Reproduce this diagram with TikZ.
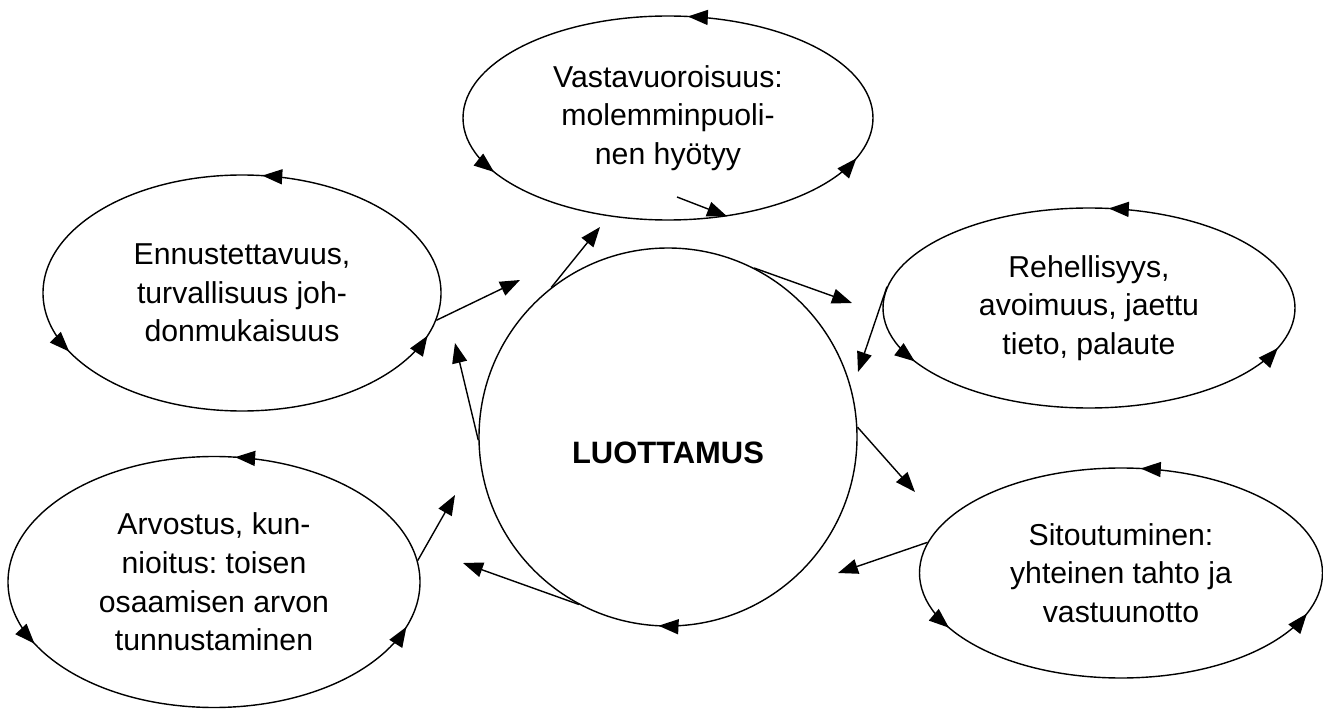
\documentclass[tikz,border=0pt]{standalone}
\usepackage{fontspec}
\setmainfont{Liberation Sans}
\usepackage{tikz}
\usetikzlibrary{positioning,shapes.geometric,arrows.meta,decorations.markings}
\frenchspacing

\begin{document}
\begin{tikzpicture}[line width=0.8pt,
    link/.style={-{Triangle[length=4mm,width=3mm]}},
    bubble/.style={ellipse, draw, inner sep=1pt, align=center,
        font=\fontsize{17.2}{22}\selectfont,
        postaction={decorate, decoration={markings,
            mark=at position 0.23 with {\arrow{Triangle[length=4mm,width=3mm]}},
            mark=at position 0.565 with {\arrow{Triangle[length=4mm,width=3mm]}},
            mark=at position 0.955 with {\arrow{Triangle[length=4mm,width=3mm]}}}}}]

\useasboundingbox (0,0) rectangle (26.46,14.22);

% Centre
\node[circle, draw, minimum size=7.56cm, inner sep=0pt,
    label={[yshift=-0.32cm, font=\fontsize{17.6}{22}\selectfont\bfseries]center:LUOTTAMUS},
    postaction={decorate, decoration={markings,
        mark=at position 0.742 with {\arrowreversed{Triangle[length=4mm,width=3mm]}}}}]
    (luot) at (13.36, 5.48) {};

% Surrounding ellipses
\node[bubble, minimum width=8.2cm, minimum height=4.08cm] (vast) at (13.36, 11.86)
    {Vastavuoroisuus:\\molemminpuoli-\\nen hyötyy};
\node[bubble, minimum width=7.96cm, minimum height=4.72cm] (ennu) at (4.84, 8.36)
    {Ennustettavuus,\\turvallisuus joh-\\donmukaisuus};
\node[bubble, minimum width=8.24cm, minimum height=5.02cm] (arvo) at (4.28, 2.58)
    {Arvostus, kun-\\nioitus: toisen\\osaamisen arvon\\tunnustaminen};
\node[bubble, minimum width=8.24cm, minimum height=4.0cm] (rehe) at (21.78, 8.06)
    {Rehellisyys,\\avoimuus, jaettu\\tieto, palaute};
\node[bubble, minimum width=8.06cm, minimum height=4.2cm] (sito) at (22.42, 2.76)
    {Sitoutuminen:\\yhteinen tahto ja\\vastuunotto};

% Free ends
\coordinate (a1) at (12.0, 9.68);
\coordinate (a2) at (10.4, 8.62);
\coordinate (a3) at (9.1, 7.36);
\coordinate (a4) at (9.1, 4.32);
\coordinate (a5) at (9.26, 2.96);
\coordinate (a6) at (17.04, 8.16);
\coordinate (a7) at (17.16, 6.78);
\coordinate (a8) at (18.3, 4.38);
\coordinate (a9) at (16.76, 2.76);
\coordinate (v0) at (13.54, 10.28);

% Connectors
\draw[link] (luot.128) -- (a1);
\draw[link] (ennu.-8) -- (a2);
\draw[link] (luot.181) -- (a3);
\draw[link] (arvo.6) -- (a4);
\draw[link] (luot.242) -- (a5);
\draw[link] (luot.63) -- (a6);
\draw[link] (rehe.174) -- (a7);
\draw[link] (luot.3) -- (a8);
\draw[link] (sito.171) -- (a9);
\draw[link] (v0) -- (vast.-59.5);

\end{tikzpicture}
\end{document}
